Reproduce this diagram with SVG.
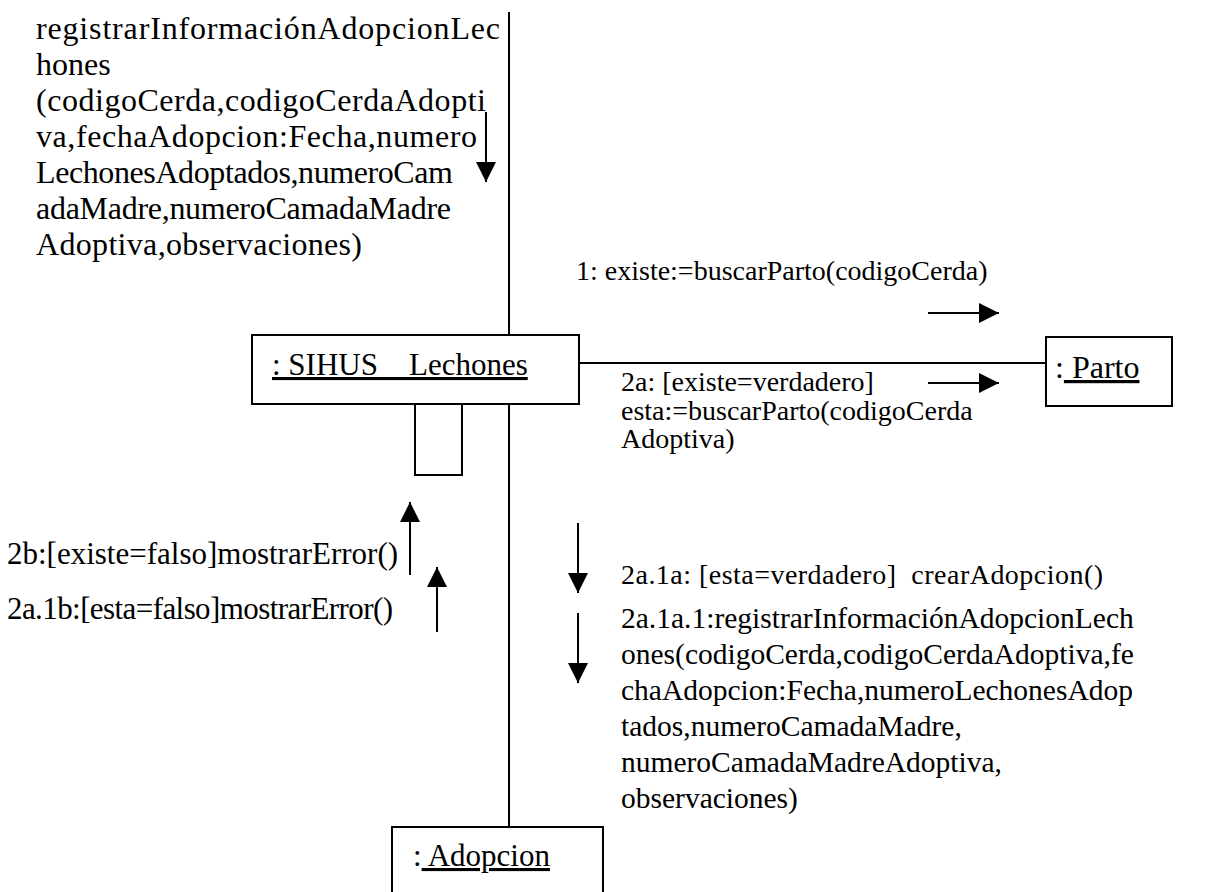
<svg xmlns="http://www.w3.org/2000/svg" width="1210" height="892" viewBox="0 0 1210 892">
<style>
text{font-family:"Liberation Serif","Times New Roman",serif;fill:#000}
.big{font-size:31px}
.blk{font-size:29.5px}
.top{font-size:32px}
.sm{font-size:28px}
.box{fill:#fff;stroke:#000;stroke-width:2}
.ln{stroke:#000;stroke-width:2;fill:none}
.msg{stroke:#000;stroke-width:2;fill:none;marker-end:url(#ah)}
.u{text-decoration:underline}
</style>
<defs>
<marker id="ah" markerUnits="userSpaceOnUse" viewBox="0 0 20 20" refX="20" refY="10" markerWidth="20" markerHeight="20" orient="auto">
<path d="M0,0 L20,10 L0,20 z" fill="#000"/>
</marker>
</defs>
<rect width="1210" height="892" fill="#fff"/>
<g id="connectors">
<line class="ln" x1="509" y1="12" x2="509" y2="335"/>
<line class="ln" x1="509" y1="404" x2="509" y2="827"/>
<line class="ln" x1="579" y1="363" x2="1046" y2="363"/>
<line class="msg" x1="486" y1="112" x2="486" y2="182"/>
<line class="msg" x1="928" y1="313" x2="999" y2="313"/>
<line class="msg" x1="928" y1="383" x2="999" y2="383"/>
<line class="msg" x1="410" y1="575" x2="410" y2="502"/>
<line class="msg" x1="437" y1="632" x2="437" y2="567"/>
<line class="msg" x1="578" y1="523" x2="578" y2="593"/>
<line class="msg" x1="578" y1="613" x2="578" y2="683"/>
</g>
<g id="sihus">
<rect class="box" x="252" y="335" width="327" height="69"/>
<text class="big u" x="272" y="375">: SIHUS__Lechones</text>
<rect class="box" x="415" y="404" width="47" height="71"/>
</g>
<g id="parto">
<rect class="box" x="1046" y="337" width="126" height="69"/>
<text class="top" x="1055" y="378">:<tspan class="u"> Parto</tspan></text>
</g>
<g id="adopcion">
<rect class="box" x="392" y="827" width="211" height="80"/>
<text class="big" x="413" y="866">:<tspan class="u"> Adopcion</tspan></text>
</g>
<g id="labels">
<text class="top" x="36" y="39" textLength="464" lengthAdjust="spacing">registrarInformaciónAdopcionLec</text>
<text class="top" x="36" y="75">hones</text>
<text class="top" x="36" y="111" textLength="450" lengthAdjust="spacing">(codigoCerda,codigoCerdaAdopti</text>
<text class="top" x="36" y="147" textLength="441" lengthAdjust="spacing">va,fechaAdopcion:Fecha,numero</text>
<text class="top" x="36" y="183" textLength="417" lengthAdjust="spacing">LechonesAdoptados,numeroCam</text>
<text class="top" x="36" y="219" textLength="415" lengthAdjust="spacing">adaMadre,numeroCamadaMadre</text>
<text class="top" x="36" y="255" textLength="326" lengthAdjust="spacing">Adoptiva,observaciones)</text>
<text class="sm" x="576" y="280">1: existe:=buscarParto(codigoCerda)</text>
<text class="sm">
<tspan x="621" y="391">2a: [existe=verdadero]</tspan>
<tspan x="621" y="419.5">esta:=buscarParto(codigoCerda</tspan>
<tspan x="621" y="448">Adoptiva)</tspan>
</text>
<text class="big" x="7" y="564">2b:[existe=falso]mostrarError()</text>
<text class="big" x="7" y="619" textLength="386" lengthAdjust="spacing">2a.1b:[esta=falso]mostrarError()</text>
<text class="sm" x="621" y="584" textLength="482" lengthAdjust="spacing" xml:space="preserve">2a.1a: [esta=verdadero]  crearAdopcion()</text>
<text class="blk">
<tspan x="621" y="628">2a.1a.1:registrarInformaciónAdopcionLech</tspan>
<tspan x="621" y="664">ones(codigoCerda,codigoCerdaAdoptiva,fe</tspan>
<tspan x="621" y="700">chaAdopcion:Fecha,numeroLechonesAdop</tspan>
<tspan x="621" y="736">tados,numeroCamadaMadre,</tspan>
<tspan x="621" y="772">numeroCamadaMadreAdoptiva,</tspan>
<tspan x="621" y="808">observaciones)</tspan>
</text>
</g>
</svg>
